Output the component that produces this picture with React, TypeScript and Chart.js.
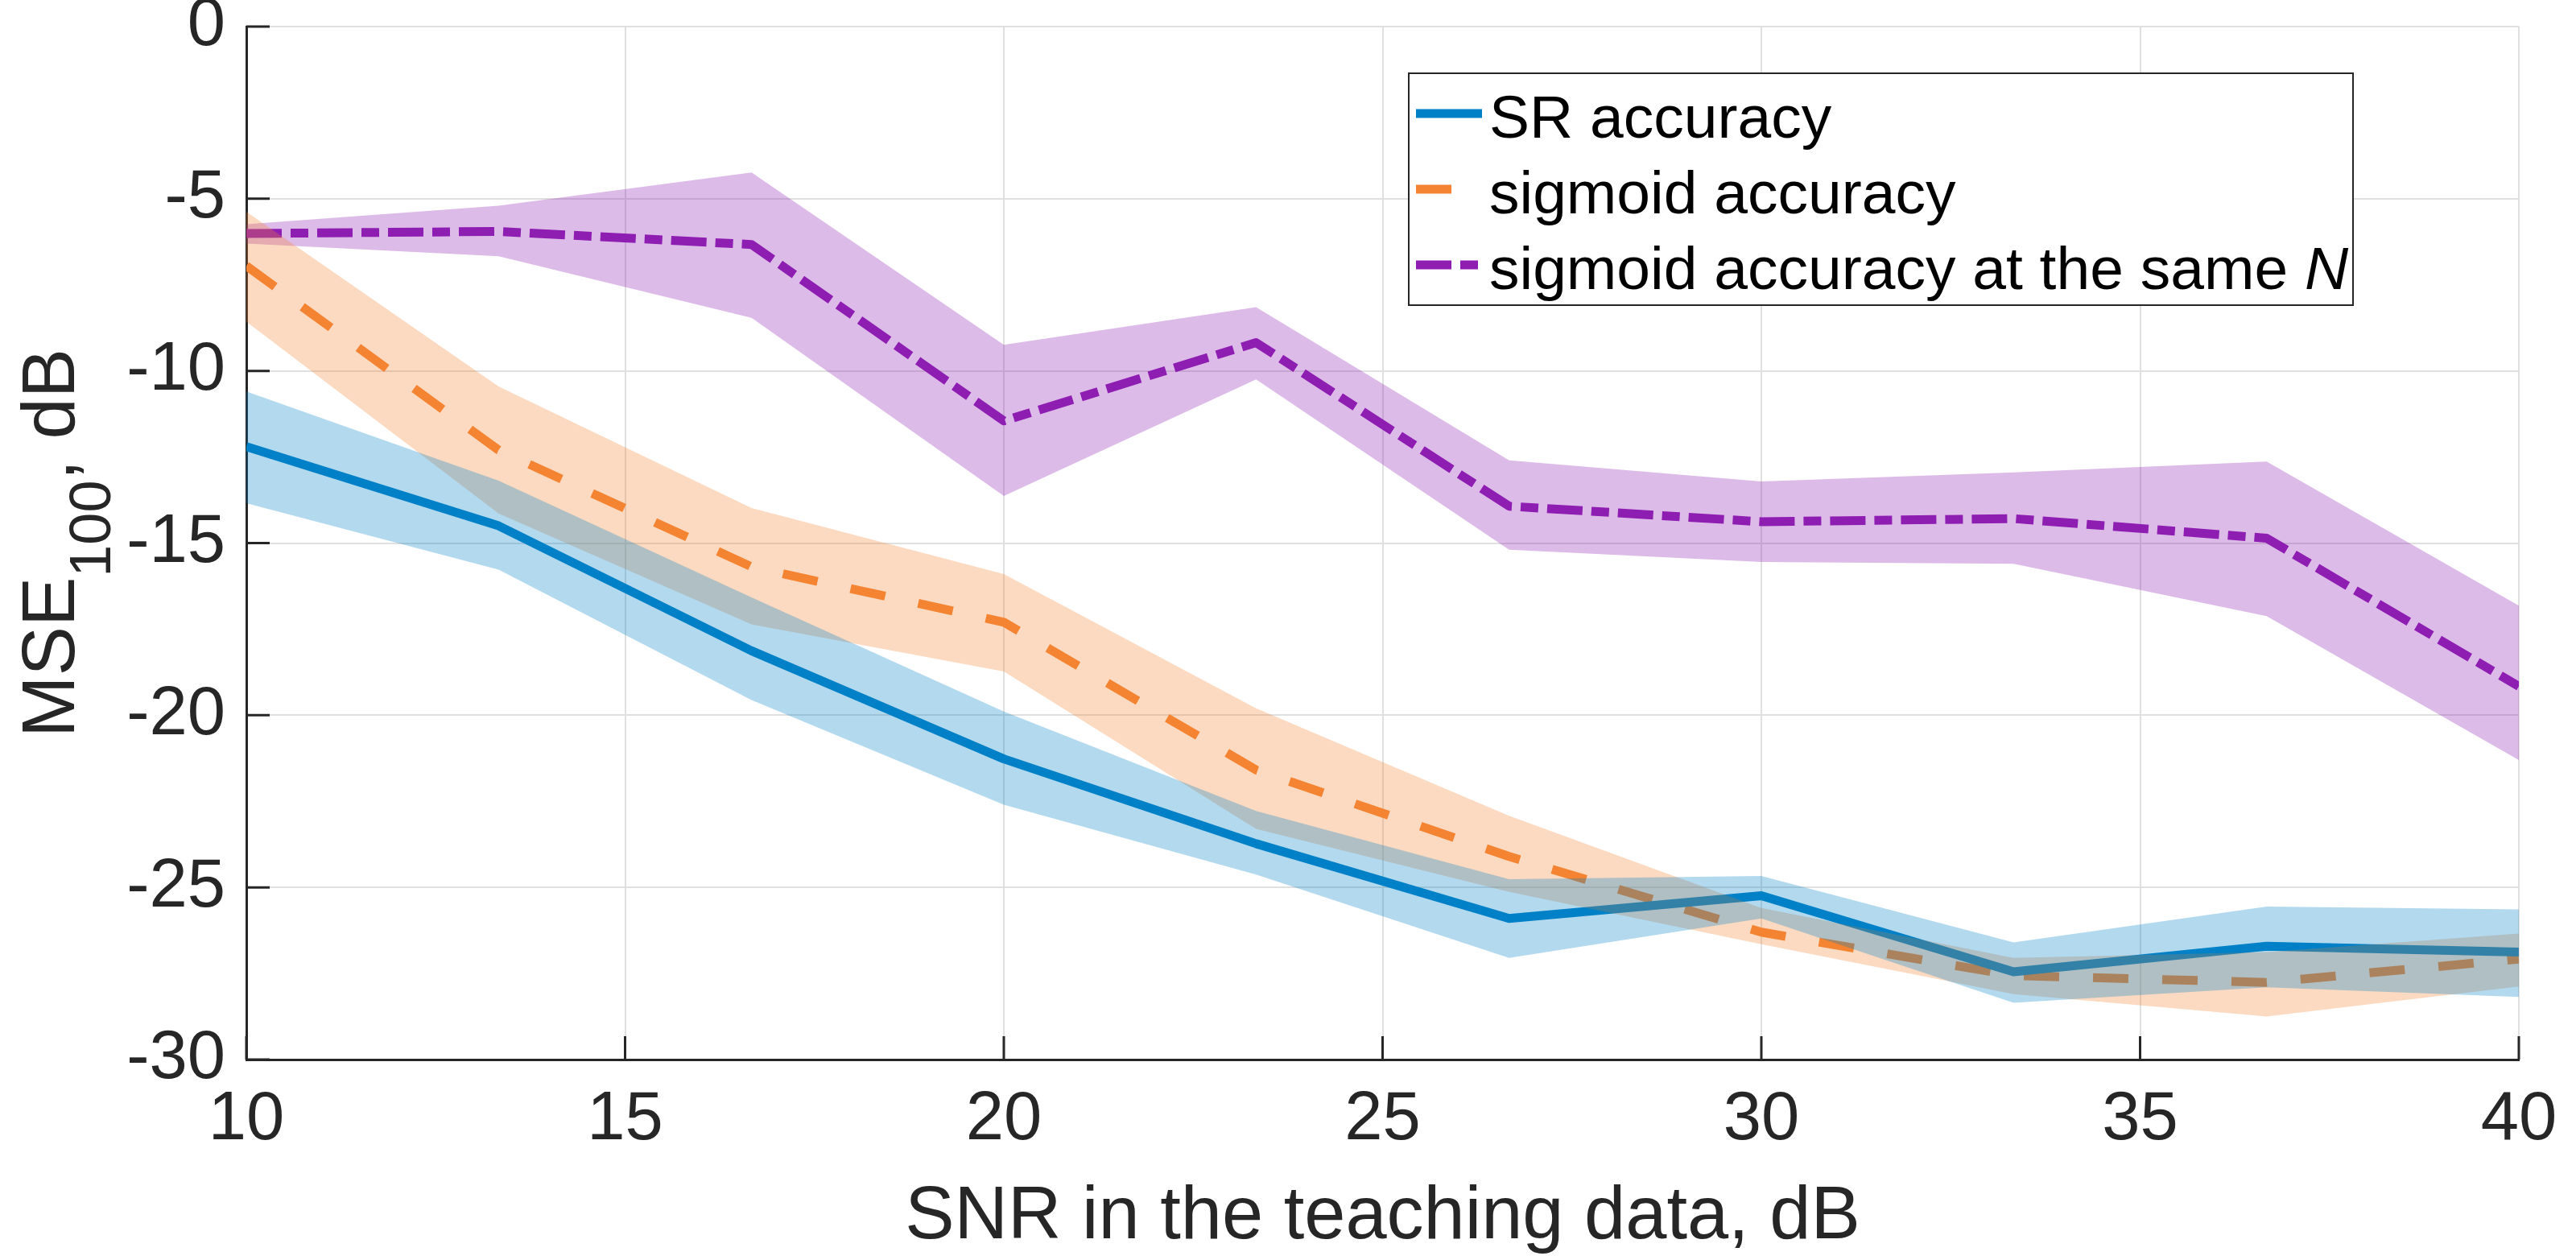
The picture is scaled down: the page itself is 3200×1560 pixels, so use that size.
import { useEffect, useRef } from "react";
import { Chart, registerables } from "chart.js";

Chart.register(...registerables);

// SNR in the teaching data, dB
const snr = [10, 13.33, 16.67, 20, 23.33, 26.67, 30, 33.33, 36.67, 40];

// SR accuracy (mean and band)
const srMean = [-12.2, -14.5, -18.13, -21.27, -23.73, -25.9, -25.24, -27.45, -26.71, -26.88];
const srUpper = [-10.6, -13.19, -16.58, -19.89, -22.78, -24.76, -24.67, -26.6, -25.56, -25.64];
const srLower = [-13.84, -15.77, -19.56, -22.6, -24.63, -27.05, -25.9, -28.35, -27.9, -28.18];

// sigmoid accuracy
const sigMean = [-6.95, -12.3, -15.69, -17.3, -21.59, -24.1, -26.3, -27.56, -27.76, -27.08];
const sigUpper = [-5.38, -10.45, -13.98, -15.9, -19.8, -22.92, -25.6, -27.05, -26.88, -26.34];
const sigLower = [-8.57, -14.14, -17.36, -18.73, -23.3, -25.13, -26.65, -28.1, -28.75, -27.88];

// sigmoid accuracy at the same N
const sameNMean = [-6.01, -5.95, -6.33, -11.45, -9.18, -13.93, -14.38, -14.29, -14.86, -19.16];
const sameNUpper = [-5.74, -5.2, -4.24, -9.24, -8.15, -12.6, -13.21, -12.95, -12.63, -16.82];
const sameNLower = [-6.3, -6.67, -8.46, -13.63, -10.25, -15.19, -15.55, -15.6, -17.12, -21.3];

const legendText = ["SR accuracy", "sigmoid accuracy", "sigmoid accuracy at the same "];
const legendItalic = ["", "", "N"];

const xTitle = "SNR in the teaching data, dB";
const yTitle = ["MSE", "100", ", dB"];

const FONT = '"Liberation Sans", Arial, Helvetica, sans-serif';
const INK = "#262626";
const BLUE = "#0081C7";
const ORANGE = "#F48432";
const PURPLE = "#8F1DB2";

function pts(ys: number[]) {
  return ys.map((y, i) => ({ x: snr[i], y }));
}

function line(label: string, ys: number[], color: string, dash: number[]) {
  return {
    label,
    data: pts(ys),
    borderColor: color,
    borderWidth: 11,
    borderDash: dash,
    borderCapStyle: "butt" as const,
    borderJoinStyle: "round" as const,
    pointRadius: 0,
    fill: false,
    tension: 0,
    order: 10,
  };
}

function band(ys: number[], color: string, upper: boolean) {
  return {
    label: "",
    data: pts(ys),
    borderWidth: 0,
    borderColor: "rgba(0,0,0,0)",
    backgroundColor: color,
    pointRadius: 0,
    fill: upper ? "+1" : false,
    tension: 0,
    order: 0,
  };
}

const decor = {
  id: "decor",
  afterDatasetsDraw(chart: any) {
    const { ctx, chartArea, scales } = chart;
    ctx.save();
    ctx.strokeStyle = INK;
    ctx.lineWidth = 3;
    ctx.setLineDash([]);
    ctx.beginPath();
    for (const t of scales.y.ticks) {
      const py = scales.y.getPixelForValue(t.value);
      ctx.moveTo(chartArea.left, py);
      ctx.lineTo(chartArea.left + 29, py);
    }
    for (const t of scales.x.ticks) {
      const px = scales.x.getPixelForValue(t.value);
      ctx.moveTo(px, chartArea.bottom);
      ctx.lineTo(px, chartArea.bottom - 29);
    }
    ctx.stroke();
    ctx.restore();
  },
  afterDraw(chart: any) {
    const { ctx, chartArea } = chart;
    ctx.save();
    ctx.fillStyle = INK;

    // x title
    ctx.font = `92px ${FONT}`;
    ctx.textAlign = "center";
    ctx.textBaseline = "alphabetic";
    ctx.fillText(xTitle, (chartArea.left + chartArea.right) / 2, 1538);

    // y title with subscript
    const mainFont = `92px ${FONT}`;
    const subFont = `72px ${FONT}`;
    ctx.font = mainFont;
    const w0 = ctx.measureText(yTitle[0]).width;
    const w2 = ctx.measureText(yTitle[2]).width;
    ctx.font = subFont;
    const w1 = ctx.measureText(yTitle[1]).width;
    const total = w0 + w1 + w2;
    ctx.translate(92, (chartArea.top + chartArea.bottom) / 2);
    ctx.rotate(-Math.PI / 2);
    ctx.textAlign = "left";
    let cx = -total / 2;
    ctx.font = mainFont;
    ctx.fillText(yTitle[0], cx, 0);
    cx += w0;
    ctx.font = subFont;
    ctx.fillText(yTitle[1], cx, 45);
    cx += w1;
    ctx.font = mainFont;
    ctx.fillText(yTitle[2], cx, 0);
    ctx.restore();

    // legend
    ctx.save();
    const box = { left: 1750, top: 91, right: 2923, bottom: 379 };
    ctx.fillStyle = "#FFFFFF";
    ctx.fillRect(box.left, box.top, box.right - box.left, box.bottom - box.top);
    ctx.strokeStyle = INK;
    ctx.lineWidth = 2;
    ctx.strokeRect(box.left, box.top, box.right - box.left, box.bottom - box.top);
    const rows = [141, 235, 329];
    const mains = chart.data.datasets.filter((d: any) => d.order === 10);
    mains.forEach((ds: any, i: number) => {
      const y = rows[i];
      ctx.strokeStyle = ds.borderColor;
      ctx.lineWidth = ds.borderWidth;
      ctx.lineCap = "butt";
      ctx.setLineDash(ds.borderDash || []);
      ctx.beginPath();
      ctx.moveTo(1759, y);
      ctx.lineTo(1841, y);
      ctx.stroke();
      ctx.setLineDash([]);
      ctx.fillStyle = "#000000";
      ctx.textAlign = "left";
      ctx.textBaseline = "alphabetic";
      ctx.font = `75px ${FONT}`;
      ctx.fillText(legendText[i], 1850, y + 30);
      if (legendItalic[i]) {
        const w = ctx.measureText(legendText[i]).width;
        ctx.font = `italic 75px ${FONT}`;
        ctx.fillText(legendItalic[i], 1850 + w, y + 30);
      }
    });
    ctx.restore();
  },
};

export default function App() {
  const canvasRef = useRef<HTMLCanvasElement>(null);

  useEffect(() => {
    document.body.style.margin = "0";
    const ctx = canvasRef.current?.getContext("2d");
    if (!ctx) return;

    const chart = new Chart(ctx, {
      type: "line",
      data: {
        datasets: [
          line("SR accuracy", srMean, BLUE, []),
          line("sigmoid accuracy", sigMean, ORANGE, [44, 42]),
          line("sigmoid accuracy at the same N", sameNMean, PURPLE, [44, 11, 22, 11]),
          band(srUpper, "rgba(0,129,199,0.3)", true),
          band(srLower, "rgba(0,129,199,0.3)", false),
          band(sigUpper, "rgba(244,132,50,0.3)", true),
          band(sigLower, "rgba(244,132,50,0.3)", false),
          band(sameNUpper, "rgba(143,29,178,0.3)", true),
          band(sameNLower, "rgba(143,29,178,0.3)", false),
        ] as any,
      },
      options: {
        responsive: false,
        devicePixelRatio: 1,
        animation: false,
        layout: { padding: { left: 0, right: 71, top: 33, bottom: 0 } },
        plugins: {
          legend: { display: false },
          tooltip: { enabled: false },
        },
        scales: {
          x: {
            type: "linear",
            min: 10,
            max: 40,
            ticks: {
              stepSize: 5,
              color: INK,
              padding: 25,
              font: { family: FONT, size: 85 },
              maxRotation: 0,
            },
            grid: { color: "#E0E0E0", lineWidth: 2, drawTicks: false },
            border: { display: true, color: INK, width: 3 },
            afterFit: (s: any) => {
              s.height = 244;
              s.paddingLeft = 0;
              s.paddingRight = 0;
            },
          },
          y: {
            type: "linear",
            min: -30,
            max: 0,
            ticks: {
              stepSize: 5,
              color: INK,
              padding: 26,
              font: { family: FONT, size: 85 },
            },
            grid: { color: "#E0E0E0", lineWidth: 2, drawTicks: false },
            border: { display: true, color: INK, width: 3 },
            afterFit: (s: any) => {
              s.width = 306;
              s.paddingTop = 0;
              s.paddingBottom = 0;
            },
          },
        },
      },
      plugins: [decor],
    });

    return () => chart.destroy();
  }, []);

  return (
    <div style={{ width: 3200, height: 1560, background: "#FFFFFF" }}>
      <canvas ref={canvasRef} width={3200} height={1560} style={{ width: 3200, height: 1560 }} />
    </div>
  );
}
